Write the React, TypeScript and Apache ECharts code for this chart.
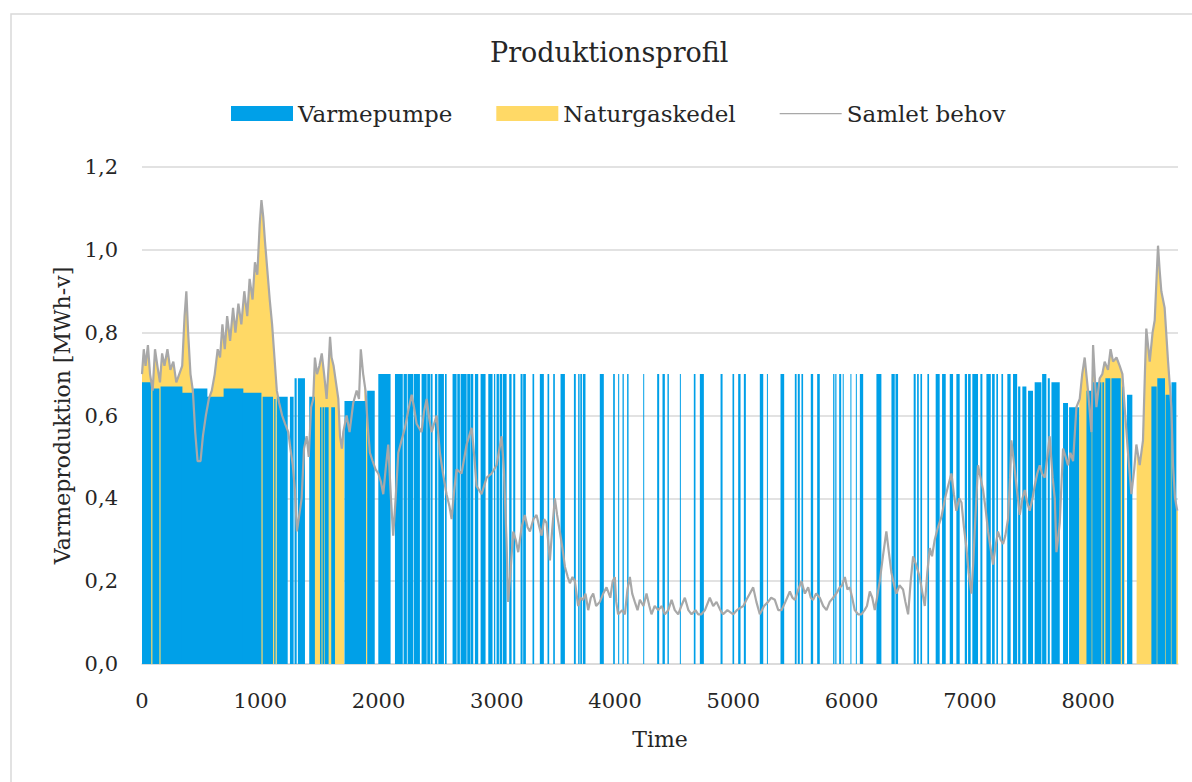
import React, { useEffect, useRef } from "react";
import * as echarts from "echarts";

const TITLE = "Produktionsprofil";
const SERIES_NAMES = ["Varmepumpe", "Naturgaskedel", "Samlet behov"];
const X_NAME = "Time";
const Y_NAME = "Varmeproduktion [MWh-v]";
const X_MAX = 8760;
const X_STEP = 1000;
const Y_MAX = 1.2;
const Y_STEP = 0.2;

// Samlet behov (total demand), [hour, MWh]
const demand: [number, number][] = [
  [0, 0.7], [15, 0.76], [30, 0.72], [50, 0.77], [68, 0.7], [90, 0.66], [110, 0.76], [130, 0.72],
  [152, 0.68], [170, 0.75], [190, 0.72], [215, 0.76], [240, 0.71], [265, 0.73], [290, 0.68], [315, 0.7],
  [340, 0.72], [360, 0.84], [375, 0.9], [390, 0.8], [410, 0.7], [430, 0.66], [450, 0.56], [470, 0.49],
  [495, 0.49], [515, 0.55], [540, 0.6], [565, 0.64], [590, 0.66], [615, 0.7], [640, 0.76], [660, 0.74],
  [680, 0.82], [700, 0.76], [720, 0.84], [745, 0.78], [770, 0.86], [790, 0.8], [815, 0.87], [840, 0.82],
  [865, 0.9], [890, 0.84], [910, 0.93], [935, 0.88], [955, 0.97], [975, 0.94], [995, 1.06], [1010, 1.12],
  [1025, 1.08], [1040, 1.02], [1060, 0.95], [1080, 0.88], [1100, 0.82], [1120, 0.74], [1140, 0.66],
  [1160, 0.63], [1185, 0.6], [1210, 0.58], [1237, 0.56], [1255, 0.52], [1275, 0.48], [1293, 0.42],
  [1310, 0.32], [1330, 0.36], [1350, 0.4], [1370, 0.52], [1392, 0.55], [1410, 0.5], [1430, 0.62],
  [1448, 0.64], [1462, 0.74], [1480, 0.7], [1500, 0.72], [1520, 0.75], [1540, 0.7], [1561, 0.64],
  [1578, 0.72], [1590, 0.79], [1603, 0.74], [1620, 0.72], [1640, 0.68], [1660, 0.64], [1674, 0.55],
  [1690, 0.52], [1702, 0.56], [1730, 0.6], [1755, 0.56], [1786, 0.63], [1815, 0.66], [1835, 0.64],
  [1850, 0.76], [1870, 0.7], [1890, 0.66], [1910, 0.57], [1927, 0.51], [1950, 0.49], [1975, 0.47],
  [1998, 0.46], [2020, 0.44], [2040, 0.41], [2060, 0.47], [2082, 0.53], [2105, 0.4], [2124, 0.31],
  [2145, 0.4], [2167, 0.51], [2195, 0.54], [2223, 0.57], [2250, 0.61], [2280, 0.65], [2300, 0.62],
  [2322, 0.58], [2364, 0.56], [2385, 0.61], [2407, 0.64], [2430, 0.59], [2449, 0.56], [2470, 0.58],
  [2491, 0.6], [2519, 0.51], [2545, 0.46], [2575, 0.41], [2600, 0.38], [2618, 0.35], [2640, 0.42],
  [2660, 0.47], [2702, 0.46], [2745, 0.53], [2787, 0.57], [2810, 0.5], [2829, 0.43], [2871, 0.41],
  [2914, 0.45], [2956, 0.46], [2998, 0.48], [3041, 0.55], [3060, 0.47], [3082, 0.3], [3096, 0.15],
  [3115, 0.22], [3139, 0.32], [3160, 0.3], [3181, 0.27], [3210, 0.33], [3237, 0.36], [3260, 0.33],
  [3280, 0.32], [3310, 0.35], [3336, 0.36], [3360, 0.33], [3379, 0.31], [3400, 0.35], [3421, 0.34],
  [3449, 0.25], [3470, 0.33], [3491, 0.4], [3510, 0.36], [3533, 0.32], [3555, 0.28], [3576, 0.235],
  [3600, 0.21], [3618, 0.195], [3640, 0.21], [3660, 0.2], [3688, 0.14], [3710, 0.16], [3730, 0.155],
  [3750, 0.17], [3773, 0.13], [3795, 0.16], [3815, 0.17], [3840, 0.14], [3871, 0.15], [3900, 0.17],
  [3928, 0.185], [3960, 0.16], [3980, 0.2], [3998, 0.21], [4010, 0.15], [4026, 0.12], [4060, 0.13],
  [4083, 0.12], [4105, 0.18], [4125, 0.21], [4145, 0.17], [4167, 0.15], [4190, 0.13], [4210, 0.155],
  [4240, 0.14], [4266, 0.17], [4290, 0.14], [4308, 0.12], [4335, 0.14], [4365, 0.13], [4395, 0.14],
  [4421, 0.12], [4450, 0.13], [4478, 0.155], [4505, 0.13], [4534, 0.12], [4560, 0.14], [4590, 0.16],
  [4620, 0.13], [4647, 0.12], [4680, 0.13], [4703, 0.12], [4730, 0.12], [4760, 0.13], [4801, 0.16],
  [4830, 0.14], [4858, 0.15], [4890, 0.13], [4914, 0.12], [4950, 0.13], [4999, 0.12], [5030, 0.13],
  [5055, 0.135], [5085, 0.14], [5111, 0.155], [5140, 0.17], [5168, 0.185], [5195, 0.15], [5224, 0.12],
  [5260, 0.14], [5294, 0.15], [5320, 0.16], [5351, 0.155], [5380, 0.13], [5407, 0.13], [5440, 0.15],
  [5478, 0.175], [5500, 0.16], [5520, 0.155], [5550, 0.18], [5576, 0.2], [5605, 0.17], [5633, 0.185],
  [5655, 0.16], [5675, 0.155], [5700, 0.17], [5731, 0.16], [5760, 0.14], [5788, 0.13], [5815, 0.15],
  [5844, 0.16], [5870, 0.17], [5900, 0.185], [5920, 0.19], [5943, 0.21], [5965, 0.18], [5985, 0.185],
  [6005, 0.16], [6027, 0.13], [6055, 0.12], [6083, 0.12], [6110, 0.13], [6130, 0.14], [6154, 0.175],
  [6175, 0.16], [6196, 0.13], [6215, 0.16], [6238, 0.2], [6265, 0.26], [6294, 0.32], [6315, 0.27],
  [6337, 0.22], [6360, 0.19], [6379, 0.17], [6405, 0.19], [6435, 0.18], [6455, 0.15], [6478, 0.12],
  [6500, 0.2], [6520, 0.26], [6545, 0.24], [6576, 0.21], [6600, 0.17], [6619, 0.14], [6640, 0.22],
  [6661, 0.28], [6680, 0.26], [6703, 0.3], [6730, 0.33], [6760, 0.355], [6790, 0.4], [6816, 0.43],
  [6844, 0.46], [6865, 0.41], [6886, 0.37], [6910, 0.4], [6929, 0.39], [6950, 0.33], [6971, 0.28],
  [6990, 0.22], [7013, 0.17], [7030, 0.25], [7041, 0.32], [7055, 0.4], [7069, 0.48], [7090, 0.45],
  [7112, 0.42], [7135, 0.37], [7154, 0.32], [7175, 0.28], [7196, 0.24], [7215, 0.28], [7238, 0.32],
  [7260, 0.3], [7281, 0.29], [7300, 0.31], [7323, 0.35], [7340, 0.45], [7351, 0.54], [7375, 0.48],
  [7394, 0.43], [7422, 0.36], [7445, 0.4], [7464, 0.42], [7485, 0.39], [7506, 0.37], [7530, 0.4],
  [7548, 0.43], [7570, 0.46], [7591, 0.48], [7610, 0.46], [7633, 0.45], [7655, 0.5], [7675, 0.55],
  [7700, 0.45], [7718, 0.4], [7732, 0.27], [7745, 0.3], [7760, 0.34], [7788, 0.52], [7810, 0.5],
  [7830, 0.48], [7850, 0.51], [7873, 0.49], [7901, 0.62], [7929, 0.64], [7950, 0.7], [7971, 0.74],
  [7999, 0.66], [8028, 0.56], [8042, 0.77], [8070, 0.62], [8098, 0.69], [8120, 0.7], [8140, 0.73],
  [8168, 0.71], [8190, 0.76], [8211, 0.73], [8240, 0.74], [8267, 0.72], [8290, 0.7], [8309, 0.62],
  [8337, 0.51], [8366, 0.41], [8390, 0.47], [8408, 0.53], [8436, 0.48], [8464, 0.54], [8480, 0.7],
  [8492, 0.81], [8510, 0.76], [8521, 0.73], [8545, 0.8], [8563, 0.83], [8580, 0.94], [8591, 1.01],
  [8605, 0.95], [8619, 0.9], [8647, 0.86], [8676, 0.73], [8704, 0.62], [8718, 0.48], [8735, 0.4],
  [8754, 0.37],
];

// Varmepumpe runs: [start hour, end hour, output MWh]
const heatPumpRuns: [number, number, number][] = [
  [0, 78, 0.68], [88, 147, 0.665], [157, 335, 0.67], [335, 434, 0.655], [434, 546, 0.665],
  [546, 690, 0.645], [690, 850, 0.665], [850, 1010, 0.655], [1020, 1108, 0.645], [1118, 1129, 0.64],
  [1140, 1232, 0.645], [1251, 1282, 0.645], [1290, 1308, 0.69], [1318, 1378, 0.69], [1414, 1462, 0.645],
  [1505, 1518, 0.62], [1526, 1542, 0.62], [1547, 1578, 0.62], [1600, 1632, 0.62], [1712, 1894, 0.635],
  [1904, 1968, 0.66], [1998, 2102, 0.7], [2139, 2205, 0.7], [2212, 2240, 0.7], [2246, 2294, 0.7],
  [2299, 2350, 0.7], [2364, 2407, 0.7], [2412, 2435, 0.7], [2440, 2457, 0.7], [2477, 2497, 0.7],
  [2505, 2553, 0.7], [2562, 2576, 0.7], [2626, 2660, 0.7], [2666, 2688, 0.7], [2694, 2745, 0.7],
  [2750, 2778, 0.7], [2781, 2801, 0.7], [2815, 2843, 0.7], [2863, 2905, 0.7], [2928, 2964, 0.7],
  [2976, 2987, 0.7], [2998, 3018, 0.7], [3024, 3046, 0.7], [3052, 3083, 0.7], [3105, 3125, 0.7],
  [3139, 3156, 0.7], [3201, 3218, 0.7], [3223, 3246, 0.7], [3302, 3316, 0.7], [3364, 3398, 0.7],
  [3429, 3443, 0.7], [3477, 3491, 0.7], [3539, 3576, 0.7], [3652, 3668, 0.7], [3688, 3700, 0.7],
  [3706, 3720, 0.7], [3728, 3750, 0.7], [3871, 3905, 0.7], [3984, 3998, 0.7], [4026, 4035, 0.7],
  [4063, 4074, 0.7], [4102, 4114, 0.7], [4238, 4246, 0.7], [4356, 4373, 0.7], [4401, 4421, 0.7],
  [4443, 4455, 0.7], [4548, 4556, 0.7], [4666, 4680, 0.7], [4717, 4751, 0.7], [4892, 4909, 0.7],
  [4993, 5007, 0.7], [5041, 5061, 0.7], [5089, 5106, 0.7], [5224, 5253, 0.7], [5284, 5290, 0.7],
  [5399, 5430, 0.7], [5520, 5535, 0.7], [5545, 5562, 0.7], [5576, 5590, 0.7], [5655, 5675, 0.7],
  [5709, 5731, 0.7], [5844, 5855, 0.7], [5862, 5872, 0.7], [5895, 5912, 0.7], [5925, 5930, 0.7],
  [5990, 5995, 0.7], [6036, 6042, 0.7], [6070, 6098, 0.7], [6210, 6252, 0.7], [6337, 6365, 0.7],
  [6371, 6393, 0.7], [6525, 6542, 0.7], [6554, 6568, 0.7], [6582, 6596, 0.7], [6641, 6655, 0.7],
  [6711, 6745, 0.7], [6765, 6796, 0.7], [6830, 6858, 0.7], [6886, 6914, 0.7], [6957, 6976, 0.7],
  [6985, 7007, 0.7], [7021, 7069, 0.7], [7089, 7106, 0.7], [7140, 7177, 0.7], [7188, 7210, 0.7],
  [7224, 7238, 0.7], [7267, 7281, 0.7], [7317, 7345, 0.7], [7365, 7400, 0.7], [7408, 7427, 0.67],
  [7444, 7478, 0.67], [7492, 7534, 0.66], [7548, 7605, 0.68], [7611, 7647, 0.7], [7659, 7676, 0.69],
  [7690, 7760, 0.68], [7788, 7830, 0.63], [7839, 7924, 0.62], [7986, 8030, 0.66], [8035, 8112, 0.68],
  [8120, 8135, 0.68], [8146, 8188, 0.69], [8197, 8276, 0.69], [8287, 8304, 0.67], [8329, 8374, 0.65],
  [8535, 8580, 0.67], [8585, 8650, 0.69], [8655, 8700, 0.65], [8705, 8746, 0.68],
];

// Naturgaskedel in operation: [start hour, end hour] (tops up to total demand)
const gasPeriods: [number, number][] = [
  [0, 1140], [1440, 1710], [1880, 1905], [7925, 8310], [8410, 8760],
];

const BLUE = "#00a0e8";
const YELLOW = "#ffd966";
const GRAY = "#a8a8a8";
const GRID = "#d9d9d9";
const TEXT = "#262626";
const FONT = "DejaVu Serif";

function nearestDemand(h: number): number {
  let best = demand[0];
  for (const p of demand) if (Math.abs(p[0] - h) < Math.abs(best[0] - h)) best = p;
  return best[1];
}

function buildGasArea(): [number, number][] {
  const out: [number, number][] = [];
  for (const [s, e] of gasPeriods) {
    out.push([s, 0], [s, nearestDemand(s)]);
    for (const p of demand) if (p[0] > s && p[0] < e) out.push([p[0], p[1]]);
    out.push([e, nearestDemand(e)], [e, 0]);
  }
  return out;
}

const runStarts = new Set(heatPumpRuns.map((r) => r[0]));

export default function App() {
  const ref = useRef<HTMLDivElement>(null);
  useEffect(() => {
    if (!ref.current) return;
    const chart = echarts.init(ref.current, undefined, { renderer: "svg" });
    const gasArea = buildGasArea();
    chart.setOption({
      animation: false,
      backgroundColor: "#ffffff",
      title: {
        text: TITLE,
        left: 485,
        top: 34,
        padding: 5,
        textStyle: { fontFamily: FONT, fontSize: 27, fontWeight: "normal", color: TEXT },
      },
      legend: {
        left: 226,
        top: 97,
        itemWidth: 62,
        itemHeight: 15,
        itemGap: 44,
        textStyle: { fontFamily: FONT, fontSize: 23, color: TEXT },
        data: [
          { name: SERIES_NAMES[0], icon: "rect" },
          { name: SERIES_NAMES[1], icon: "rect" },
          {
            name: SERIES_NAMES[2],
            icon: "path://M0,0 L62,0 L62,0.001 Z M0,7 L62,7 L62,8.2 L0,8.2 Z M0,15 L62,15 L62,15.001 Z",
          },
        ],
      },
      graphic: [
        {
          type: "rect",
          silent: true,
          shape: { x: 11, y: 14, width: 1220, height: 820 },
          style: { fill: "none", stroke: GRID, lineWidth: 1.5 },
        },
      ],
      grid: { left: 142, right: 14, top: 167, bottom: 118, containLabel: false },
      xAxis: {
        type: "value",
        min: 0,
        max: X_MAX,
        interval: X_STEP,
        name: X_NAME,
        nameLocation: "middle",
        nameGap: 64,
        nameTextStyle: { fontFamily: FONT, fontSize: 22, color: TEXT },
        axisLine: { show: true, lineStyle: { color: GRID, width: 1.5 } },
        axisTick: { show: false },
        splitLine: { show: false },
        axisLabel: {
          showMaxLabel: false,
          margin: 26,
          fontFamily: FONT,
          fontSize: 21,
          color: TEXT,
          formatter: (v: number) => String(v),
        },
      },
      yAxis: {
        type: "value",
        min: 0,
        max: Y_MAX,
        interval: Y_STEP,
        name: Y_NAME,
        nameLocation: "middle",
        nameGap: 68,
        nameTextStyle: { fontFamily: FONT, fontSize: 22, color: TEXT },
        axisLine: { show: false },
        axisTick: { show: false },
        splitLine: { lineStyle: { color: GRID, width: 1.5 } },
        axisLabel: {
          margin: 24,
          fontFamily: FONT,
          fontSize: 21,
          color: TEXT,
          formatter: (v: number) => v.toFixed(1).replace(".", ","),
        },
      },
      series: [
        {
          name: SERIES_NAMES[1],
          type: "line",
          data: gasArea,
          symbol: "none",
          color: YELLOW,
          itemStyle: { color: YELLOW },
          lineStyle: { width: 0, color: YELLOW },
          areaStyle: { color: YELLOW, opacity: 1 },
          z: 2,
        },
        {
          name: SERIES_NAMES[0],
          type: "custom",
          data: heatPumpRuns,
          encode: { x: [0, 1], y: 2 },
          itemStyle: { color: BLUE },
          z: 3,
          renderItem: (_params: any, api: any) => {
            const s = api.value(0);
            const e = api.value(1);
            const top = api.value(2);
            const a = api.coord([s, top]);
            const b = api.coord([e, 0]);
            const join = runStarts.has(e) ? 0.8 : 0;
            const w = Math.max(b[0] - a[0], 1) + join;
            return {
              type: "rect",
              shape: { x: a[0], y: a[1], width: w, height: b[1] - a[1] },
              style: { fill: BLUE },
            };
          },
        },
        {
          name: SERIES_NAMES[2],
          type: "line",
          data: demand,
          symbol: "none",
          color: GRAY,
          itemStyle: { color: GRAY },
          lineStyle: { color: GRAY, width: 2.2 },
          z: 4,
        },
      ],
    });
    return () => chart.dispose();
  }, []);
  return (
    <div
      ref={ref}
      style={{ position: "fixed", left: 0, top: 0, width: 1192, height: 782, background: "#fff" }}
    />
  );
}
